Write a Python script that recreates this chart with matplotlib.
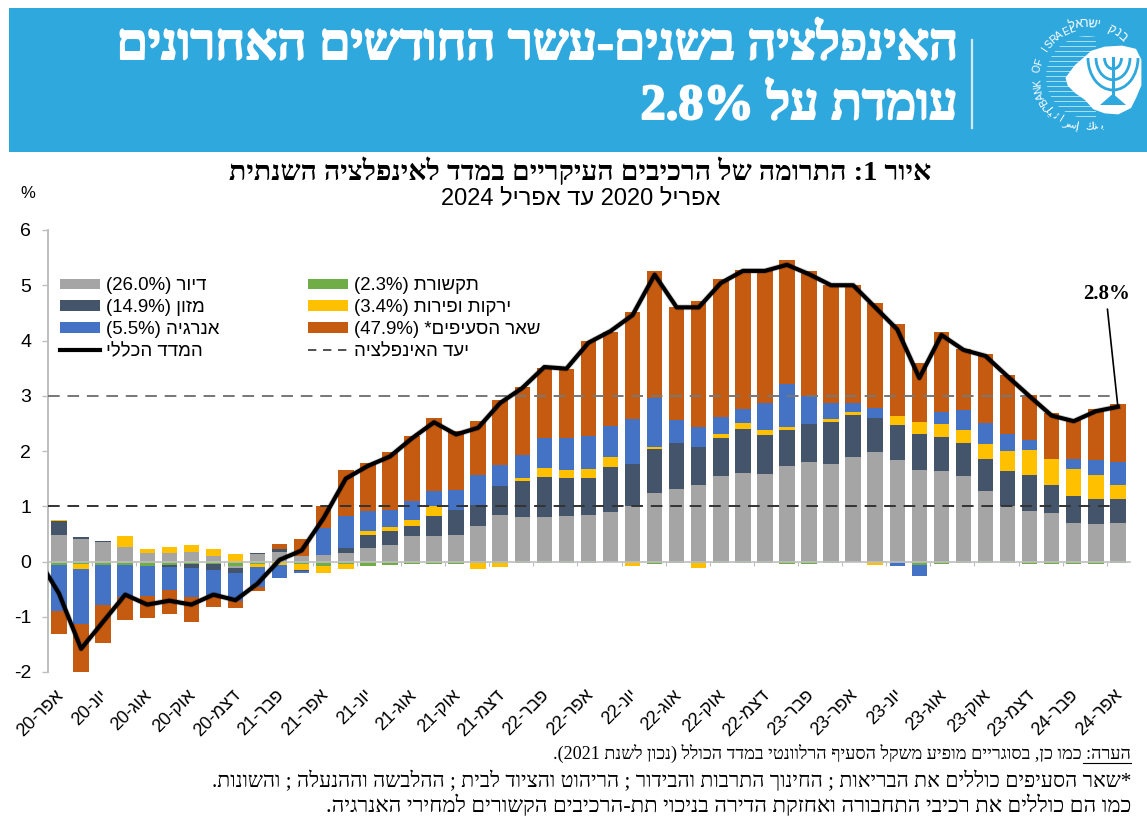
#!/usr/bin/env python3
"""Bank of Israel slide: contribution of main CPI components to annual inflation."""

import re

import matplotlib

matplotlib.use("Agg")
import matplotlib.patches as mpatches  # noqa: E402
import matplotlib.patheffects as pe  # noqa: E402
import matplotlib.pyplot as plt  # noqa: E402
import matplotlib.transforms as mtrans  # noqa: E402
import numpy as np  # noqa: E402
from matplotlib.lines import Line2D  # noqa: E402

COLOR_BANNER = "#2FA8DE"
COLOR_HOUSING = "#A5A5A5"
COLOR_FOOD = "#44546A"
COLOR_ENERGY = "#4472C4"
COLOR_COMM = "#70AD47"
COLOR_VEG = "#FFC000"
COLOR_OTHER = "#C55A11"
COLOR_AXIS = "#BFBFBF"

# signed contributions per month, Apr-20 .. Apr-24
housing = [.48, .40, .36, .27, .16, .16, .17, .10, -.04, .14, .18, .10, .12, .16, .24, .30, .46,
           .46, .48, .64, .84, .80, .80, .82, .84, .90, 1.0, 1.24, 1.31, 1.38, 1.54, 1.61, 1.58,
           1.72, 1.80, 1.76, 1.90, 1.98, 1.83, 1.66, 1.64, 1.54, 1.28, 1.01, .92, .88, .70, .68, .70]
food = [.26, .04, .01, 0, 0, -.04, -.07, -.10, -.08, .01, .04, -.02, 0, .08, .24, .25, .18,
        .37, .45, .39, .52, .65, .73, .69, .68, .81, .77, .80, .83, .69, .69, .78, .71,
        .66, .69, .77, .75, .61, .64, .64, .62, .60, .58, .63, .64, .51, .48, .45, .43]
veg = [.01, -.08, 0, .19, .06, .10, .12, .12, .14, -.05, -.03, -.10, -.13, -.08, .08, .07, .12,
       .17, 0, -.10, -.07, .07, .16, .15, .15, .19, -.07, .04, 0, -.09, .07, .11, .09,
       .06, 0, .05, .06, -.05, .16, .22, .22, .24, .27, .36, .46, .47, .50, .44, .25]
energy = [-.82, -1.0, -.72, -.57, -.55, -.41, -.52, -.45, -.51, -.36, -.23, -.03, .48, .59, .36, .32, .33,
          .27, .36, .53, .38, .40, .54, .57, .61, .56, .81, .88, .42, .37, .32, .26, .48,
          .78, .51, .28, .15, .19, -.08, -.21, .23, .37, .37, .30, .18, 0, .17, .27, .42]
other = [-.42, -.88, -.68, -.42, -.39, -.44, -.45, -.22, -.14, -.08, .09, .30, .41, .83, .87, 1.05, 1.19,
         1.33, 1.07, .99, 1.19, 1.23, 1.28, 1.26, 1.71, 1.70, 1.94, 2.29, 2.05, 2.27, 2.49, 2.51, 2.40,
         2.23, 2.25, 2.15, 2.15, 1.89, 1.66, 1.07, 1.45, 1.10, 1.26, 1.07, .81, .83, .71, .92, 1.05]
comm = [-.07, -.05, -.07, -.07, -.08, -.06, -.05, -.05, -.08, -.05, -.03, -.05, -.08, -.05, -.09, -.07, -.05,
        -.05, -.04, -.03, -.03, -.03, -.03, -.02, -.02, -.01, -.01, -.04, -.03, -.03, -.03, -.03, -.03,
        -.05, -.04, -.03, -.01, -.01, -.01, -.06, -.04, -.02, -.02, -.02, -.04, -.04, -.04, -.04, -.03]
# headline index, one month more at the front: the line enters from behind the axis
total = [.08, -.58, -1.58, -1.09, -.6, -.78, -.71, -.78, -.6, -.7, -.4, .03, .2, .79, 1.5, 1.73, 1.9,
         2.23, 2.52, 2.3, 2.42, 2.87, 3.14, 3.52, 3.49, 3.96, 4.17, 4.46, 5.19, 4.6, 4.6, 5.04, 5.26,
         5.26, 5.37, 5.2, 5.0, 5.0, 4.6, 4.2, 3.32, 4.1, 3.83, 3.72, 3.35, 2.99, 2.64, 2.54, 2.72, 2.8]

month_labels = ["אפר-20", "יונ-20", "אוג-20", "אוק-20", "דצמ-20",
                "פבר-21", "אפר-21", "יונ-21", "אוג-21", "אוק-21", "דצמ-21",
                "פבר-22", "אפר-22", "יונ-22", "אוג-22", "אוק-22", "דצמ-22",
                "פבר-23", "אפר-23", "יונ-23", "אוג-23", "אוק-23", "דצמ-23",
                "פבר-24", "אפר-24"]
y_ticks = [-2, -1, 0, 1, 2, 3, 4, 5, 6]
target_band = [1, 3]

legend_housing = "דיור (26.0%)"
legend_food = "מזון (14.9%)"
legend_energy = "אנרגיה (5.5%)"
legend_total = "המדד הכללי"
legend_comm = "תקשורת (2.3%)"
legend_veg = "ירקות ופירות (3.4%)"
legend_other = "שאר הסעיפים* (47.9%)"
legend_target = "יעד האינפלציה"

banner_1 = "האינפלציה בשנים-עשר החודשים האחרונים"
banner_2 = "עומדת על 2.8%"
title_1 = "איור 1: התרומה של הרכיבים העיקריים במדד לאינפלציה השנתית"
title_2 = "אפריל 2020 עד אפריל 2024"
note_1 = "הערה: כמו כן, בסוגריים מופיע משקל הסעיף הרלוונטי במדד הכולל (נכון לשנת 2021)."
note_2 = "*שאר הסעיפים כוללים את הבריאות ; החינוך התרבות והבידור ; הריהוט והציוד לבית ; ההלבשה וההנעלה ; והשונות."
note_3 = "כמו הם כוללים את רכיבי התחבורה ואחזקת הדירה בניכוי תת-הרכיבים הקשורים למחירי האנרגיה."


def rtl(text: str) -> str:
    """matplotlib has no bidi: turn logical Hebrew into visual order, numbers kept."""
    rev = text[::-1].translate(str.maketrans("()", ")("))
    return re.sub(r"%?[\d.]*\d", lambda m: m.group(0)[::-1], rev)


def ring_text(ax, text, start, step, radius, center, font, size, flip=False):
    """Logo lettering, one rotated glyph at a time."""
    cx, cy = center
    for i, ch in enumerate(text):
        a = np.radians(start + i * step)
        x, y = cx + radius * np.cos(a), cy - radius * np.sin(a)
        rot = np.degrees(a) - 90 + (180 if flip else 0)
        ax.text(x, y, ch, rotation=rot, ha="center", va="center", rotation_mode="anchor",
                color="white", fontsize=size, family=font)


def draw_logo(ax):
    center = (1087, 77)
    clip = mpatches.Circle(center, 41, transform=ax.transData)
    for y in np.arange(36, 120, 5):
        ln, = ax.plot([1040, 1095], [y, y], color="white", lw=0.6, alpha=0.7, zorder=2)
        ln.set_clip_path(clip)
    blob = [(1067, 78), (1076, 66), (1083, 60), (1092, 52), (1105, 48), (1122, 47), (1135, 50),
            (1140, 60), (1140, 85), (1135, 97), (1130, 107), (1118, 113), (1105, 112),
            (1094, 108), (1086, 99), (1076, 92), (1069, 85)]
    ax.add_patch(mpatches.Polygon(blob, closed=True, fc="white", ec="white", lw=2,
                                  joinstyle="round", zorder=3))
    # menorah, three nested cups; y runs down on this axes so 0..180 is the lower half
    mx, my = 1113, 58
    for r in (8.5, 17, 25):
        ax.add_patch(mpatches.Arc((mx, my), 2 * r, 2 * r * 1.28, theta1=0, theta2=180,
                                  color=COLOR_BANNER, lw=2.0, zorder=4))
    ax.plot([mx, mx], [my, 102], color=COLOR_BANNER, lw=2.2, zorder=4)
    ax.add_patch(mpatches.Polygon([(mx - 1.5, 95), (mx + 1.5, 95), (mx + 13, 105), (mx - 13, 105)],
                                  closed=True, fc=COLOR_BANNER, ec="none", zorder=4))
    ring_text(ax, "BANK OF ISRAEL", 210, -7.9, 50, center, "Liberation Sans", 7.5)
    ring_text(ax, "בנק ישראל"[::-1], 106, -7.2, 53, center, "Liberation Sans", 9)
    ring_text(ax, "ﻞﻴﺋﺍﺮﺳﺇ ﻚﻨﺑ", 217, 7, 50, center, "DejaVu Sans", 8, flip=True)


def main() -> int:
    fig = plt.figure(figsize=(11.47, 8.16), dpi=100)
    fig.patch.set_facecolor("white")

    # page furniture in pixel coordinates
    page = fig.add_axes([0, 0, 1, 1], zorder=0)
    page.set_xlim(0, 1147)
    page.set_ylim(816, 0)
    page.axis("off")
    page.add_patch(mpatches.Rectangle((9, 8), 1138, 144, fc=COLOR_BANNER, ec="none"))
    page.plot([972, 972], [40, 128], color="#D5EAF5", lw=1.6)
    thick = [pe.withStroke(linewidth=1.4, foreground="white")]
    page.text(957, 47, rtl(banner_1), ha="right", va="center", color="white", fontsize=36.3,
              family="Liberation Serif", weight="bold", path_effects=thick)
    page.text(957, 107, rtl(banner_2), ha="right", va="center", color="white", fontsize=36.3,
              family="Liberation Serif", weight="bold", path_effects=thick)
    draw_logo(page)

    page.text(931, 172, rtl(title_1), ha="right", va="center", fontsize=20.4,
              family="Liberation Serif", weight="bold")
    page.text(720, 198, rtl(title_2), ha="right", va="center", fontsize=17,
              family="Liberation Sans")
    page.text(28, 194, "%", ha="center", va="center", fontsize=12, family="Liberation Sans")

    page.text(1131, 753, rtl(note_1), ha="right", va="center", fontsize=13.1, family="Liberation Serif")
    page.plot([1083, 1131], [763, 763], color="black", lw=0.8)
    page.text(1131, 781, rtl(note_2), ha="right", va="center", fontsize=15.35, family="Liberation Serif")
    page.text(1131, 806, rtl(note_3), ha="right", va="center", fontsize=15.95, family="Liberation Serif")

    # chart
    ax = fig.add_axes([48 / 1147, (816 - 672) / 816, 1082 / 1147, 442 / 816], zorder=1)
    ax.patch.set_alpha(0)
    x = np.arange(len(housing))
    pos = np.zeros(len(x))
    neg = np.zeros(len(x))
    stack = [(comm, COLOR_COMM), (housing, COLOR_HOUSING), (veg, COLOR_VEG), (food, COLOR_FOOD),
             (energy, COLOR_ENERGY), (other, COLOR_OTHER)]
    # positive side builds housing, food, veg, energy, other from the zero line
    for vals, color in [stack[1], stack[3], stack[2], stack[4], stack[5]]:
        v = np.clip(vals, 0, None)
        ax.bar(x, v, 0.7, bottom=pos, color=color, zorder=2)
        pos += v
    for vals, color in stack:
        v = np.clip(vals, None, 0)
        ax.bar(x, v, 0.7, bottom=neg, color=color, zorder=2)
        neg += v

    for level, color in zip(target_band, ("#333333", "#777777")):
        ax.plot([-0.5, 47.8], [level, level], color=color, lw=1.4, dashes=(6, 4), zorder=3)
    ax.plot(np.arange(-1, len(housing)), total, color="black", lw=3, solid_joinstyle="round",
            zorder=4, path_effects=[pe.withStroke(linewidth=4.2, foreground="#00000030")])

    ax.set_xlim(-0.5, 48.55)
    ax.set_ylim(-2, 6)
    for side in ("top", "right"):
        ax.spines[side].set_visible(False)
    ax.spines["left"].set_color(COLOR_AXIS)
    ax.spines["left"].set_linewidth(1.4)
    ax.spines["bottom"].set_position(("data", 0))
    ax.spines["bottom"].set_color(COLOR_AXIS)
    ax.spines["bottom"].set_linewidth(1.2)
    ax.spines["bottom"].set_zorder(3)

    ax.set_yticks(y_ticks)
    ax.set_yticklabels([str(t) for t in y_ticks], family="Liberation Sans", fontsize=14)
    ax.tick_params(axis="y", length=4, width=1, color=COLOR_AXIS, pad=8)

    label_pos = x[::2]
    ax.set_xticks(label_pos)
    ax.set_xticklabels([rtl(s) for s in month_labels], family="Liberation Sans", fontsize=13,
                       rotation=45, ha="right", rotation_mode="anchor")
    ax.tick_params(axis="x", which="major", length=0, pad=90)
    shift = mtrans.ScaledTranslation(-4 / 100, 0, fig.dpi_scale_trans)
    for lab in ax.get_xticklabels():
        lab.set_transform(lab.get_transform() + shift)
    ax.set_xticks(label_pos - 0.5, minor=True)
    ax.tick_params(axis="x", which="minor", length=3, width=0.8, color=COLOR_AXIS, direction="out")

    def swatch(color):
        return mpatches.Patch(fc=color, ec="none")

    handles = [swatch(COLOR_HOUSING), swatch(COLOR_FOOD), swatch(COLOR_ENERGY),
               Line2D([], [], color="black", lw=3),
               swatch(COLOR_COMM), swatch(COLOR_VEG), swatch(COLOR_OTHER),
               Line2D([], [], color="#333333", lw=1.2, dashes=(5, 4))]
    labels = [rtl(s) for s in (legend_housing, legend_food, legend_energy, legend_total,
                               legend_comm, legend_veg, legend_other, legend_target)]
    ax.legend(handles, labels, ncol=2, frameon=False, loc="upper left", bbox_to_anchor=(0.0092, 0.897),
              prop={"family": "Liberation Sans", "size": 13.4}, handlelength=2.15, handleheight=0.48,
              handletextpad=0.35, labelspacing=0.26, columnspacing=4.73, borderaxespad=0, borderpad=0.1)

    ax.annotate("2.8%", xy=(48, total[-1]), xytext=(47.5, 4.85), ha="center", va="center",
                fontsize=15, weight="bold", family="Liberation Serif", zorder=5,
                arrowprops=dict(arrowstyle="-", color="black", lw=1.2, relpos=(0.5, 0),
                                shrinkA=2, shrinkB=0))

    fig.savefig("out.png", dpi=100)
    plt.close(fig)
    return 0


if __name__ == "__main__":
    raise SystemExit(main())
